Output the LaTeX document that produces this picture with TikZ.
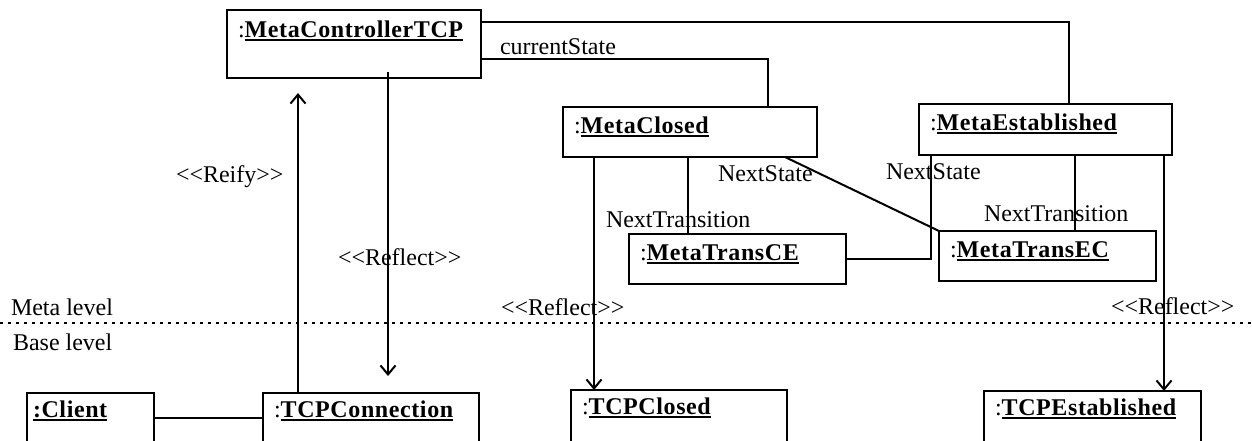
\documentclass[tikz,border=0pt]{standalone}
\usepackage{fontspec}
\setmainfont{Liberation Serif}
\usetikzlibrary{arrows.meta}
\newcommand{\objul}[1]{\setbox0\hbox{\bfseries\addfontfeature{LetterSpace=2.5}#1}\rlap{\rule[-4pt]{\wd0}{1.6pt}}\box0}

\tikzset{
  obj/.style={draw, rectangle, line width=1.6pt, anchor=north west, inner sep=0pt, outer sep=0pt},
  objname/.style={anchor=base west, inner sep=0pt},
  lbl/.style={anchor=base west, inner sep=0pt}
}

\begin{document}
\begin{tikzpicture}[x=1pt, y=-1pt, font=\fontsize{24}{28}\selectfont, line width=2pt, >={Straight Barb[length=9pt,width=15pt]}]
\useasboundingbox (0,0) rectangle (1252,440);
\clip (0,0) rectangle (1252,440);
\node[obj, minimum width=254pt, minimum height=68pt] (mct) at (227,10) {};
\node[obj, minimum width=254pt, minimum height=50pt] (mc) at (563,107) {};
\node[obj, minimum width=253pt, minimum height=51pt] (me) at (919,104) {};
\node[obj, minimum width=217pt, minimum height=50pt] (mtce) at (629,234) {};
\node[obj, minimum width=217pt, minimum height=50pt] (mtec) at (939,231) {};
\node[obj, minimum width=127pt, minimum height=50pt] (cl) at (27,393) {};
\node[obj, minimum width=216pt, minimum height=50pt] (tcpc) at (263,393) {};
\node[obj, minimum width=216pt, minimum height=56pt] (tcl) at (571,390) {};
\node[obj, minimum width=217pt, minimum height=56pt] (tce) at (984,391) {};
\node[objname] (mct-n) at ([shift={(10,27)}]mct.north west) {:\objul{MetaControllerTCP}};
\node[objname] (mc-n) at ([shift={(10,26)}]mc.north west) {:\objul{MetaClosed}};
\node[objname] (me-n) at ([shift={(10,26)}]me.north west) {:\objul{MetaEstablished}};
\node[objname] (mtce-n) at ([shift={(10,26)}]mtce.north west) {:\objul{MetaTransCE}};
\node[objname] (mtec-n) at ([shift={(10,26)}]mtec.north west) {:\objul{MetaTransEC}};
\node[objname] (cl-n) at ([shift={(5,24)}]cl.north west) {\objul{:Client}};
\node[objname] (tcpc-n) at ([shift={(10,24)}]tcpc.north west) {:\objul{TCPConnection}};
\node[objname] (tcl-n) at ([shift={(10,24)}]tcl.north west) {:\objul{TCPClosed}};
\node[objname] (tce-n) at ([shift={(10,24)}]tce.north west) {:\objul{TCPEstablished}};
\draw (mct.east |- 0,22) -| (1069,0 |- me.north);
\draw (mct.east |- 0,59) -| (768,0 |- mc.north);
\node[lbl] (cs) at (499,54) {currentState};
\draw[->, shorten >=15pt] (298,0 |- tcpc.north) -- (298,0 |- mct.south);
\draw[->, shorten <=-6pt, shorten >=17pt] (388,0 |- mct.south) -- (388,0 |- tcpc.north);
\node[lbl] (reify) at (175,182) {<{}<Reify>{}>};
\node[lbl] (refl1) at (337,265) {<{}<Reflect>{}>};
\draw[->] (594,0 |- mc.south) -- (594,0 |- tcl.north);
\draw (688,0 |- mc.south) -- (688,0 |- mtce.north);
\draw (785,0 |- mc.south) -- (mtec.north west);
\draw (mtce.east) -| (931,0 |- me.south);
\draw (1075,0 |- me.south) -- (1075,0 |- mtec.north);
\draw[->] (1164,0 |- me.south) -- (1164,0 |- tce.north);
\node[lbl] (ns1) at (717,181) {NextState};
\node[lbl] (nt1) at (605,227) {NextTransition};
\node[lbl] (ns2) at (885,179) {NextState};
\node[lbl] (nt2) at (983,221) {NextTransition};
\node[lbl] (refl2) at (500,315) {<{}<Reflect>{}>};
\node[lbl] (refl3) at (1110,314) {<{}<Reflect>{}>};
\draw (cl.east) -- (tcpc.west);
\draw[dash pattern=on 2.5pt off 5.5pt] (0,323) -- (1252,323);
\node[lbl] (meta) at (10,315) {Meta level};
\node[lbl] (base) at (12,350) {Base level};
\end{tikzpicture}
\end{document}
